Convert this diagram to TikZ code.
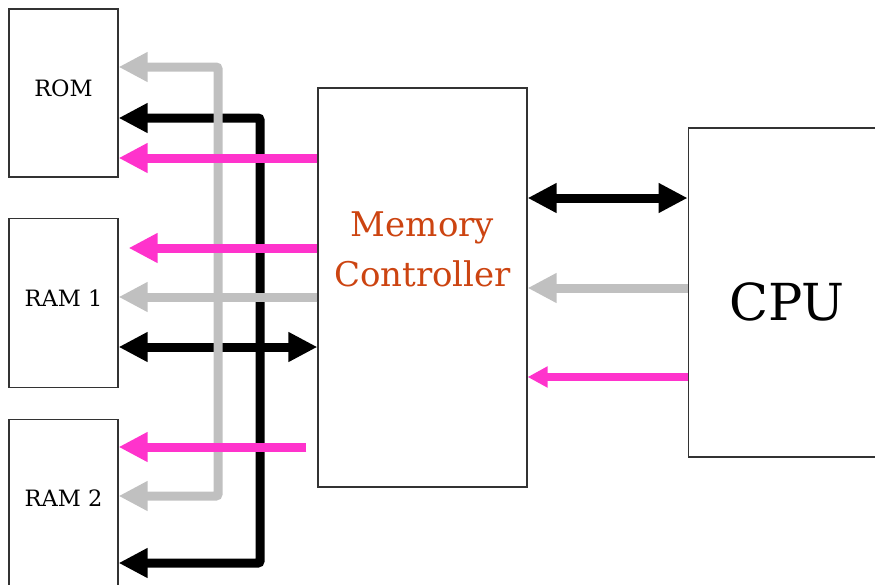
\documentclass[tikz,border=0pt]{standalone}
\usepackage{fontspec}
\setmainfont{DejaVu Serif}
\usepackage{xcolor}
\usetikzlibrary{arrows.meta, positioning}

\definecolor{busgray}{RGB}{192,192,192}
\definecolor{buspink}{RGB}{255,51,204}
\definecolor{mcred}{RGB}{204,68,17}

\begin{document}
\begin{tikzpicture}[x=1pt, y=-1pt,
    unit/.style={draw=black!80, line width=1.2pt, rectangle, fill=white, inner sep=0pt,
      minimum width=109pt, font=\fontsize{22.5}{24}\selectfont, text depth=10pt},
    bus/.style={line width=9pt, rounded corners=2pt, -{Triangle[length=29pt, width=28pt]}},
    dbus/.style={bus, {Triangle[length=29pt, width=28pt]}-{Triangle[length=29pt, width=28pt]}},
    thinbus/.style={line width=8pt, -{Triangle[length=20pt, width=20pt]}}]
  \useasboundingbox (0,0) rectangle (875,584);
  \clip (0,0) rectangle (875,584);

  % Memories
  \node [unit, minimum height=168pt] (rom) at (63.5,93) {ROM};
  \node [unit, minimum height=169pt, below=40pt of rom] (ram1) {RAM 1};
  \node [unit, minimum height=168pt, below=31pt of ram1] (ram2) {RAM 2};

  % Memory controller
  \node [draw=black!80, line width=1.2pt, rectangle, minimum width=209pt, minimum height=399pt,
    label={[align=center, text=mcred, font=\fontsize{34}{50}\selectfont, yshift=38pt]center:Memory\\Controller}]
    (mc) at (422.5,287.5) {};

  % CPU
  \node [draw=black!80, line width=1.2pt, rectangle, minimum width=198pt, minimum height=329pt,
    right=160pt of mc, yshift=-5pt,
    label={[font=\fontsize{51}{51}\selectfont, yshift=-9pt]center:CPU}] (cpu) {};

  \coordinate (gtap) at (218,297);
  \coordinate (btap) at (260,347);

  % Black buses
  \draw [bus, black] (btap) |- (rom.east |- 0,118);
  \draw [bus, black] (btap) |- (ram2.east |- 0,563);
  \draw [dbus, black] (ram1.east |- btap) -- (mc.west |- btap);
  \draw [dbus, black] (mc.east |- 0,198) -- (cpu.west |- 0,198);

  % Gray buses
  \draw [bus, busgray] (gtap) |- (rom.east |- 0,67);
  \draw [bus, busgray] (gtap) |- (ram2.east |- 0,496);
  \draw [bus, busgray] (mc.west |- gtap) -- (ram1.east |- gtap);
  \draw [bus, busgray] (cpu.west |- 0,288) -- (mc.east |- 0,288);

  % Pink buses
  \draw [bus, buspink] (mc.west |- 0,158) -- (rom.east |- 0,158);
  \draw [bus, buspink] (mc.west |- 0,248) -- ([xshift=10pt]ram1.east |- 0,248);
  \draw [bus, buspink] ([xshift=-11pt]mc.west |- 0,447) -- (ram2.east |- 0,447);
  \draw [thinbus, buspink] (cpu.west |- 0,377) -- (mc.east |- 0,377);
\end{tikzpicture}
\end{document}
